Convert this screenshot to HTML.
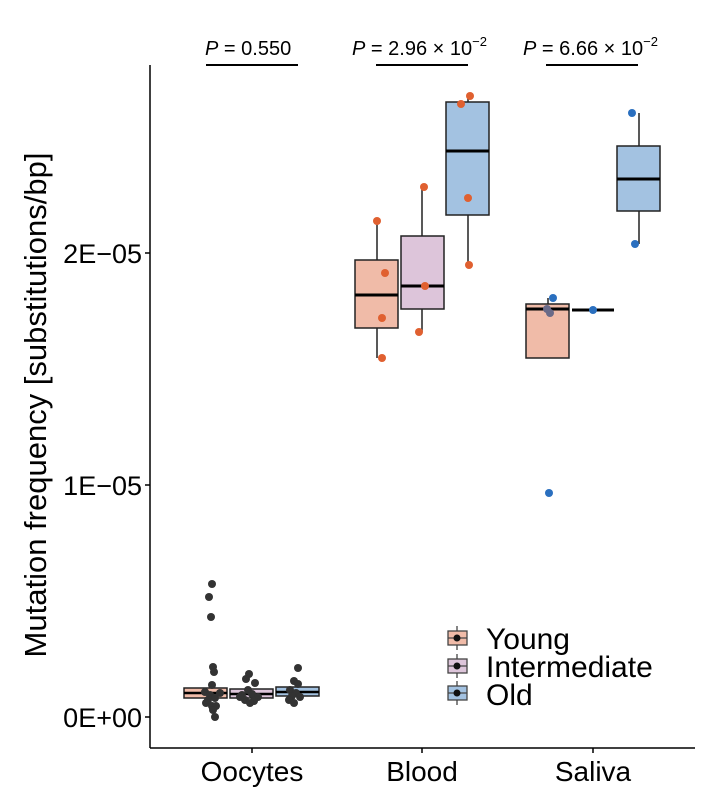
<!DOCTYPE html>
<html><head><style>body{margin:0;background:#fff}svg{display:block}</style></head><body>
<svg width="724" height="800" xmlns="http://www.w3.org/2000/svg" font-family="Liberation Sans, Arial, sans-serif">
<rect width="724" height="800" fill="#fff"/>
<line x1="150" y1="65" x2="150" y2="748" stroke="#000" stroke-width="1.5"/>
<line x1="150" y1="748" x2="695" y2="748" stroke="#000" stroke-width="1.5"/>
<g stroke="#000" stroke-width="1.5">
<line x1="145" y1="717" x2="150" y2="717"/><line x1="145" y1="485" x2="150" y2="485"/><line x1="145" y1="253" x2="150" y2="253"/>
<line x1="252" y1="748" x2="252" y2="753"/><line x1="422" y1="748" x2="422" y2="753"/><line x1="593" y1="748" x2="593" y2="753"/>
</g>
<g font-size="27" fill="#000" text-anchor="end">
<text x="142" y="727">0E+00</text><text x="142" y="495">1E−05</text><text x="142" y="263">2E−05</text>
</g>
<g font-size="28" fill="#000" text-anchor="middle">
<text x="252" y="781">Oocytes</text><text x="422" y="781">Blood</text><text x="593" y="781">Saliva</text>
</g>
<text transform="translate(46,405) rotate(-90)" font-size="31" text-anchor="middle">Mutation frequency [substitutions/bp]</text>
<g stroke="#000" stroke-width="2"><line x1="206" y1="65" x2="298" y2="65"/><line x1="376" y1="65" x2="468" y2="65"/><line x1="546" y1="65" x2="638" y2="65"/></g>
<g font-size="20" fill="#000">
<text x="205" y="55"><tspan font-style="italic">P</tspan> = 0.550</text>
<text x="352" y="55"><tspan font-style="italic">P</tspan> = 2.96 × 10<tspan dy="-9" font-size="13">−2</tspan></text>
<text x="523" y="55"><tspan font-style="italic">P</tspan> = 6.66 × 10<tspan dy="-9" font-size="13">−2</tspan></text>
</g>
<g stroke="#222" stroke-width="1.5">
<line x1="377" y1="220" x2="377" y2="358"/>
<rect x="355" y="260" width="43" height="68" fill="#f0bba8"/>
<line x1="355" y1="295" x2="398" y2="295" stroke="#000" stroke-width="3"/>
<line x1="422" y1="187" x2="422" y2="332"/>
<rect x="401" y="236" width="43" height="73" fill="#ddc5da"/>
<line x1="401" y1="286" x2="444" y2="286" stroke="#000" stroke-width="3"/>
<line x1="468" y1="96" x2="468" y2="264"/>
<rect x="446" y="102" width="43" height="113" fill="#a3c2e1"/>
<line x1="446" y1="151" x2="489" y2="151" stroke="#000" stroke-width="3"/>
<line x1="548" y1="298" x2="548" y2="304"/>
<rect x="526" y="304" width="43" height="54" fill="#f0bba8"/>
<line x1="526" y1="309" x2="569" y2="309" stroke="#000" stroke-width="3"/>
<line x1="572" y1="310" x2="614" y2="310" stroke="#000" stroke-width="3"/>
<line x1="639" y1="113" x2="639" y2="244"/>
<rect x="617" y="146" width="43" height="65" fill="#a3c2e1"/>
<line x1="617" y1="179" x2="660" y2="179" stroke="#000" stroke-width="3"/>
<rect x="184" y="688" width="43" height="10" fill="#f0bba8"/>
<line x1="184" y1="693" x2="227" y2="693" stroke="#000" stroke-width="2.5"/>
<rect x="230" y="689" width="43" height="9" fill="#ddc5da"/>
<line x1="230" y1="694" x2="273" y2="694" stroke="#000" stroke-width="2.5"/>
<rect x="276" y="687" width="43" height="9" fill="#a3c2e1"/>
<line x1="276" y1="692" x2="319" y2="692" stroke="#000" stroke-width="2.5"/>
</g>
<g fill="#e06030">
<circle cx="377" cy="221" r="4"/><circle cx="385" cy="273" r="4"/><circle cx="382" cy="318" r="4"/><circle cx="382" cy="358" r="4"/>
<circle cx="424" cy="187" r="4"/><circle cx="425" cy="286" r="4"/><circle cx="419" cy="332" r="4"/>
<circle cx="470" cy="96" r="4"/><circle cx="461" cy="104" r="4"/><circle cx="468" cy="198" r="4"/><circle cx="469" cy="265" r="4"/>
</g>
<g fill="#2a6fbf">
<circle cx="553" cy="298" r="4"/><circle cx="593" cy="310" r="4"/><circle cx="632" cy="113" r="4"/><circle cx="635" cy="244" r="4"/><circle cx="549" cy="493" r="4"/>
</g>
<g fill="#6a6a88"><circle cx="547" cy="309" r="4"/><circle cx="550" cy="313" r="4"/></g>
<g fill="#333">
<circle cx="212" cy="584" r="4"/><circle cx="209" cy="597" r="4"/><circle cx="211" cy="617" r="4"/>
<circle cx="213" cy="667" r="4"/><circle cx="214" cy="672" r="4"/><circle cx="212" cy="685" r="4"/><circle cx="205" cy="692" r="4"/><circle cx="210" cy="695" r="4"/><circle cx="215" cy="698" r="4"/><circle cx="206" cy="703" r="4"/><circle cx="212" cy="706" r="4"/><circle cx="216" cy="706" r="4"/><circle cx="213" cy="710" r="4"/><circle cx="215" cy="717" r="4"/><circle cx="208" cy="700" r="4"/><circle cx="220" cy="693" r="4"/>
<circle cx="249" cy="674" r="4"/><circle cx="246" cy="679" r="4"/><circle cx="255" cy="683" r="4"/><circle cx="248" cy="690" r="4"/><circle cx="242" cy="695" r="4"/><circle cx="252" cy="694" r="4"/><circle cx="258" cy="697" r="4"/><circle cx="245" cy="700" r="4"/><circle cx="254" cy="701" r="4"/><circle cx="250" cy="703" r="4"/><circle cx="240" cy="697" r="4"/>
<circle cx="298" cy="668" r="4"/><circle cx="294" cy="681" r="4"/><circle cx="298" cy="684" r="4"/><circle cx="290" cy="690" r="4"/><circle cx="296" cy="693" r="4"/><circle cx="292" cy="696" r="4"/><circle cx="300" cy="697" r="4"/><circle cx="289" cy="700" r="4"/><circle cx="294" cy="703" r="4"/>
</g>
<g stroke="#444" stroke-width="1.3">
<line x1="457" y1="626" x2="457" y2="650"/><rect x="448" y="631" width="19" height="14" fill="#f0bba8"/>
<line x1="457" y1="654" x2="457" y2="678"/><rect x="448" y="659" width="19" height="14" fill="#ddc5da"/>
<line x1="457" y1="681" x2="457" y2="705"/><rect x="448" y="686" width="19" height="14" fill="#a3c2e1"/>
<line x1="448" y1="638" x2="467" y2="638"/><line x1="448" y1="666" x2="467" y2="666"/><line x1="448" y1="693" x2="467" y2="693"/>
</g>
<g fill="#111"><circle cx="457" cy="638" r="3.5"/><circle cx="457" cy="666" r="3.5"/><circle cx="457" cy="693" r="3.5"/></g>
<g font-size="30" fill="#000">
<text x="486" y="649">Young</text><text x="486" y="677">Intermediate</text><text x="486" y="705">Old</text>
</g>
</svg>
</body></html>
